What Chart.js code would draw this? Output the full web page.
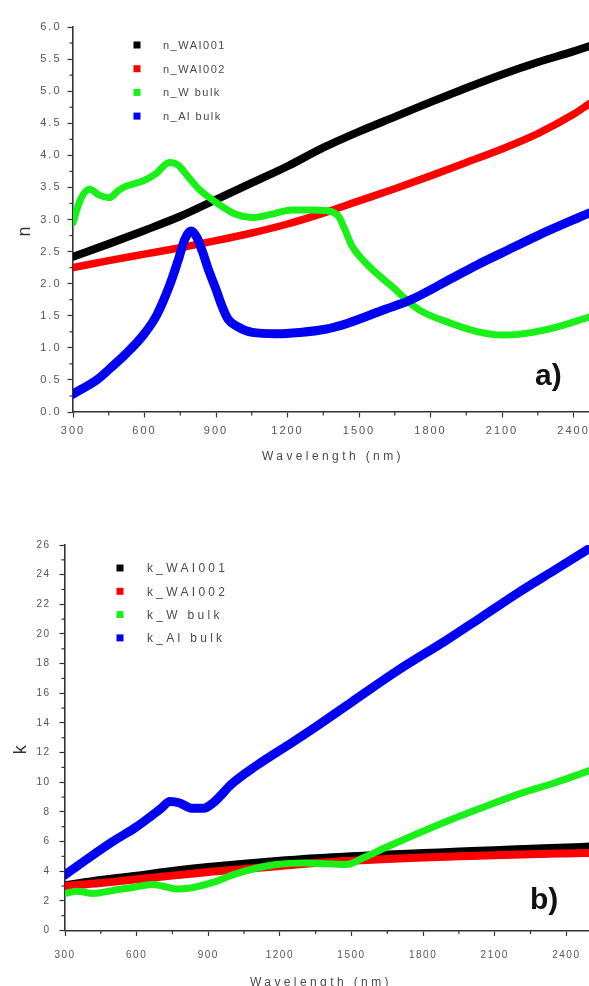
<!DOCTYPE html>
<html><head><meta charset="utf-8">
<script src="https://cdn.jsdelivr.net/npm/chart.js@4.4.1/dist/chart.umd.min.js"></script>
<style>
html,body{margin:0;padding:0;background:#fff;}
body{width:589px;height:986px;position:relative;overflow:hidden;}
#cA{position:absolute;left:0;top:0;}
#cB{position:absolute;left:0;top:480px;}
</style></head><body>
<canvas id="cA" width="589" height="470"></canvas>
<canvas id="cB" width="589" height="506"></canvas>
<script>
// ---------- Tick labels ----------
const wlTicks = [300,600,900,1200,1500,1800,2100,2400];
const wlMinor = [450,750,1050,1350,1650,1950,2250];
const nTicks = [0,0.5,1,1.5,2,2.5,3,3.5,4,4.5,5,5.5,6];
const nMinor = [0.25,0.75,1.25,1.75,2.25,2.75,3.25,3.75,4.25,4.75,5.25,5.75];
const kTicks = [0,2,4,6,8,10,12,14,16,18,20,22,24,26];
const kMinor = [1,3,5,7,9,11,13,15,17,19,21,23,25];

// ---------- Panel a) : refractive index n ----------
const nWAI001_wl = [300,450,600,750,900,1050,1200,1350,1500,1650,1800,1950,2100,2250,2400,2465];
const nWAI001    = [2.42,2.62,2.83,3.05,3.31,3.57,3.83,4.12,4.37,4.60,4.83,5.05,5.26,5.45,5.62,5.70];
const nWAI002_wl = [300,450,600,750,900,1050,1200,1350,1500,1650,1800,1950,2100,2250,2400,2465];
const nWAI002    = [2.25,2.36,2.46,2.56,2.67,2.79,2.93,3.10,3.29,3.48,3.68,3.89,4.10,4.34,4.64,4.80];
const nW_wl = [300,330,370,410,453,490,523,593,650,704,740,780,829,899,983,1052,1130,1219,1300,1360,1414,1440,1470,1540,1637,1749,1888,2000,2100,2167,2305,2465];
const nW    = [2.95,3.30,3.47,3.38,3.34,3.45,3.52,3.60,3.72,3.89,3.85,3.68,3.47,3.27,3.08,3.03,3.08,3.15,3.15,3.14,3.05,2.85,2.59,2.28,1.96,1.60,1.38,1.25,1.20,1.21,1.30,1.48];
const nAl_wl = [300,400,453,520,593,650,704,740,770,795,820,843,870,899,925,950,990,1052,1150,1250,1359,1450,1610,1707,1888,2000,2100,2250,2465];
const nAl    = [0.28,0.50,0.67,0.90,1.19,1.50,1.96,2.35,2.70,2.82,2.72,2.50,2.20,1.92,1.65,1.45,1.33,1.24,1.22,1.24,1.29,1.38,1.60,1.73,2.08,2.30,2.48,2.75,3.10];

// ---------- Panel b) : extinction coefficient k ----------
const kWAI001_wl = [300,450,600,750,900,1050,1200,1350,1500,1650,1800,1950,2100,2250,2400,2500];
const kWAI001    = [3.05,3.40,3.70,4.02,4.28,4.50,4.70,4.88,5.00,5.12,5.22,5.33,5.42,5.52,5.60,5.66];
const kWAI002_wl = [300,450,600,750,900,1050,1200,1350,1500,1650,1800,1950,2100,2250,2400,2500];
const kWAI002    = [3.00,3.20,3.45,3.70,3.95,4.15,4.35,4.55,4.70,4.82,4.92,5.00,5.08,5.15,5.20,5.23];
const kW_wl = [300,350,418,500,600,669,720,766,820,864,930,1003,1100,1184,1300,1393,1476,1550,1643,1800,1921,2050,2200,2350,2500];
const kW    = [2.50,2.65,2.50,2.70,2.95,3.10,2.95,2.80,2.85,3.00,3.30,3.75,4.20,4.45,4.55,4.50,4.45,4.90,5.60,6.70,7.50,8.30,9.20,9.95,10.80];
const kAl_wl = [300,400,500,600,700,740,780,830,880,920,1000,1100,1253,1365,1500,1700,1900,2032,2200,2350,2500];
const kAl    = [3.75,4.90,6.00,7.00,8.20,8.70,8.60,8.25,8.25,8.60,9.90,11.10,12.70,13.90,15.40,17.60,19.60,21.00,22.80,24.30,25.80];

const nLabels = ['n_WAI001','n_WAI002','n_W bulk','n_Al bulk'];
const kLabels = ['k_WAI001','k_WAI002','k_W bulk','k_Al bulk'];
const colors = ['#000000','#ff0000','#18f018','#0000f2'];

const FAM = '"Liberation Sans", Arial, sans-serif';
const pts = (xs, ys) => xs.map((x, i) => ({x: x, y: ys[i]}));

function ds(label, data, color, width, order) {
  return {label, data, borderColor: color, backgroundColor: color, borderWidth: width,
    pointRadius: 0, cubicInterpolationMode: 'monotone', borderCapStyle: 'round',
    borderJoinStyle: 'round', fill: false, order};
}

const decorPlugin = {
  id: 'decor',
  beforeDraw(chart, args, o) {
    chart.ctx.letterSpacing = o.tickSpacing;
  },
  afterDraw(chart, args, o) {
    const ctx = chart.ctx, ca = chart.chartArea;
    const xs = chart.scales.x, ys = chart.scales.y;
    ctx.save();
    // minor ticks
    ctx.strokeStyle = '#333'; ctx.lineWidth = 1.2;
    o.xMinor.forEach(v => {
      const px = xs.getPixelForValue(v);
      ctx.beginPath(); ctx.moveTo(px, ca.bottom); ctx.lineTo(px, ca.bottom + 3.5); ctx.stroke();
    });
    o.yMinor.forEach(v => {
      const py = ys.getPixelForValue(v);
      ctx.beginPath(); ctx.moveTo(ca.left, py); ctx.lineTo(ca.left - 3.5, py); ctx.stroke();
    });
    // legend
    ctx.font = o.legendFont;
    ctx.textBaseline = 'middle'; ctx.textAlign = 'left';
    ctx.letterSpacing = o.legendSpacing;
    chart.data.datasets.forEach((d, i) => {
      const y = ca.top + o.legY + i * o.legDy;
      ctx.fillStyle = d.borderColor;
      ctx.fillRect(ca.left + o.legX - 3.5, y - 3.5, 7, 7);
      ctx.fillStyle = '#4a4a4a';
      ctx.fillText(d.label, ca.left + o.legTx, y + 1);
    });
    // axis titles
    ctx.fillStyle = '#4a4a4a';
    ctx.font = '12px ' + FAM;
    ctx.letterSpacing = o.titleSpacing;
    ctx.textAlign = 'center';
    ctx.fillText(o.xTitle, (ca.left + ca.right) / 2 + o.xTitleDx, ca.bottom + o.xTitleDy);
    ctx.save();
    ctx.translate(o.yTitleX, (ca.top + ca.bottom) / 2 + o.yTitleDy);
    ctx.rotate(-Math.PI / 2);
    ctx.letterSpacing = '0px';
    ctx.font = '18px ' + FAM;
    ctx.fillStyle = '#333';
    ctx.fillText(o.yTitle, 0, 0);
    ctx.restore();
    // panel label
    ctx.letterSpacing = '0px';
    ctx.font = 'bold 30px ' + FAM;
    ctx.fillStyle = '#111';
    ctx.textAlign = 'left'; ctx.textBaseline = 'alphabetic';
    ctx.fillText(o.panel, ca.right + o.panelDx, ca.bottom + o.panelDy);
    ctx.restore();
  }
};

function makeChart(id, cfg) {
  return new Chart(document.getElementById(id), {
    type: 'line',
    data: {datasets: cfg.datasets},
    plugins: [decorPlugin],
    options: {
      responsive: false, animation: false, devicePixelRatio: 1,
      layout: {padding: {top: cfg.padTop, left: 0, right: 0, bottom: 0}},
      plugins: {legend: {display: false}, tooltip: {enabled: false}, decor: cfg.decor},
      scales: {
        x: {type: 'linear', min: 300, max: cfg.xMax,
          afterBuildTicks: s => { s.ticks = wlTicks.map(v => ({value: v})); },
          afterFit: s => { s.height = cfg.xHeight; s.paddingLeft = 0; s.paddingRight = 0; },
          ticks: {font: {family: FAM, size: cfg.xFont}, color: '#555', padding: cfg.xPad,
            maxRotation: 0, autoSkip: false, callback: v => String(v)},
          grid: {drawOnChartArea: false, drawTicks: true, tickLength: 5.5, tickColor: '#333', tickWidth: 1.2},
          border: {display: true, color: '#333', width: 1.6}
        },
        y: {type: 'linear', min: cfg.yMin, max: cfg.yMax,
          afterBuildTicks: s => { s.ticks = cfg.yTicks.map(v => ({value: v})); },
          afterFit: s => { s.width = cfg.yWidth; s.paddingTop = 0; s.paddingBottom = 0; },
          ticks: {font: {family: FAM, size: cfg.yFont}, color: '#555', padding: cfg.yPad,
            autoSkip: false, callback: cfg.yFmt},
          grid: {drawOnChartArea: false, drawTicks: true, tickLength: 5.5, tickColor: '#333', tickWidth: 1.2},
          border: {display: true, color: '#333', width: 1.6}
        }
      }
    }
  });
}

makeChart('cA', {
  padTop: 27, xMax: 2465, xHeight: 58, xFont: 11, xPad: 7,
  yMin: 0, yMax: 6, yTicks: nTicks, yWidth: 73, yFont: 11, yPad: 6,
  yFmt: v => v.toFixed(1),
  datasets: [
    ds(nLabels[0], pts(nWAI001_wl, nWAI001), colors[0], 8, 3),
    ds(nLabels[1], pts(nWAI002_wl, nWAI002), colors[1], 7.5, 2),
    ds(nLabels[2], pts(nW_wl, nW), colors[2], 7, 1),
    ds(nLabels[3], pts(nAl_wl, nAl), colors[3], 9, 0)
  ],
  decor: {tickSpacing: '2px', xMinor: wlMinor, yMinor: nMinor,
    legendFont: '11px ' + FAM, legendSpacing: '1.5px', legX: 64, legY: 18, legDy: 23.7, legTx: 90,
    xTitle: 'Wavelength (nm)', titleSpacing: '3.4px', xTitleDx: 2, xTitleDy: 45,
    yTitle: 'n', yTitleX: 25, yTitleDy: 12,
    panel: 'a)', panelDx: -54, panelDy: -27}
});

makeChart('cB', {
  padTop: 65, xMax: 2495, xHeight: 55.5, xFont: 10, xPad: 13,
  yMin: 0, yMax: 26, yTicks: kTicks, yWidth: 65, yFont: 10, yPad: 9,
  yFmt: v => String(v),
  datasets: [
    ds(kLabels[0], pts(kWAI001_wl, kWAI001), colors[0], 8, 3),
    ds(kLabels[1], pts(kWAI002_wl, kWAI002), colors[1], 8, 2),
    ds(kLabels[2], pts(kW_wl, kW), colors[2], 7, 1),
    ds(kLabels[3], pts(kAl_wl, kAl), colors[3], 9, 0)
  ],
  decor: {tickSpacing: '1.5px', xMinor: wlMinor, yMinor: kMinor,
    legendFont: '12px ' + FAM, legendSpacing: '3.3px', legX: 55, legY: 23, legDy: 23.3, legTx: 82,
    xTitle: 'Wavelength (nm)', titleSpacing: '3.4px', xTitleDx: -6, xTitleDy: 52,
    yTitle: 'k', yTitleX: 21, yTitleDy: 12,
    panel: 'b)', panelDx: -59, panelDy: -22}
});
</script>
</body></html>
